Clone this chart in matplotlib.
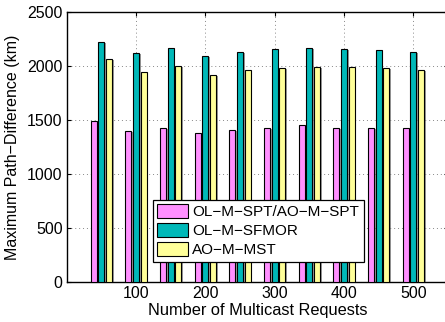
import matplotlib
matplotlib.use("Agg")
import matplotlib.pyplot as plt
import matplotlib.patheffects as pe
import numpy as np

plt.rcParams['font.family'] = ['Liberation Sans', 'DejaVu Sans']

requests = [50, 100, 150, 200, 250, 300, 350, 400, 450, 500]
spt = [1495, 1400, 1424, 1384, 1406, 1430, 1449, 1430, 1430, 1424]
sfmor = [2219, 2121, 2170, 2096, 2133, 2161, 2167, 2161, 2152, 2133]
mst = [2065, 1942, 2000, 1920, 1967, 1979, 1994, 1991, 1985, 1967]
labels = ["OL\u2212M\u2212SPT/AO\u2212M\u2212SPT", "OL\u2212M\u2212SFMOR", "AO\u2212M\u2212MST"]
colors = ["#FF8FFF", "#00B8B8", "#FFFF99"]

fig = plt.figure(figsize=(4.45, 3.22), dpi=100)
ax = fig.add_axes([0.150, 0.124, 0.857, 0.839])

x = np.array(requests)
shadow = [pe.SimplePatchShadow(offset=(1.2, -0.8), shadow_rgbFace="#555555", alpha=0.6), pe.Normal()]
for i, (vals, c, lab) in enumerate(zip([spt, sfmor, mst], colors, labels)):
    bars = ax.bar(x + (i - 1) * 11, vals, width=8.6, color=c, edgecolor="black",
                  linewidth=0.8, label=lab, zorder=3)
    for b in bars:
        b.set_path_effects(shadow)

ax.set_xlim(0, 550)
ax.set_ylim(0, 2500)
ax.set_xticks([100, 200, 300, 400, 500])
ax.set_yticks([0, 500, 1000, 1500, 2000, 2500])
ax.grid(True, linestyle=(0, (1, 3)), color="#888888", linewidth=0.7, zorder=0)
ax.tick_params(direction="in", top=True, right=True, labelsize=11.5, length=3, pad=3)
for s in ax.spines.values():
    s.set_linewidth(1.0)

ax.set_xlabel("Number of Multicast Requests", fontsize=11.8, labelpad=1)
ax.set_ylabel("Maximum Path\u2212Difference (km)", fontsize=11.5, labelpad=5)

leg = ax.legend(loc="lower left", bbox_to_anchor=(0.225, 0.075), fontsize=11,
                frameon=True, fancybox=False, edgecolor="black", framealpha=1,
                handlelength=2.0, handleheight=1.0, handletextpad=0.3,
                borderpad=0.3, labelspacing=0.25, borderaxespad=0)
leg.get_frame().set_linewidth(0.9)
for h in leg.legend_handles:
    h.set_path_effects([])

fig.savefig("out.png", dpi=100)
